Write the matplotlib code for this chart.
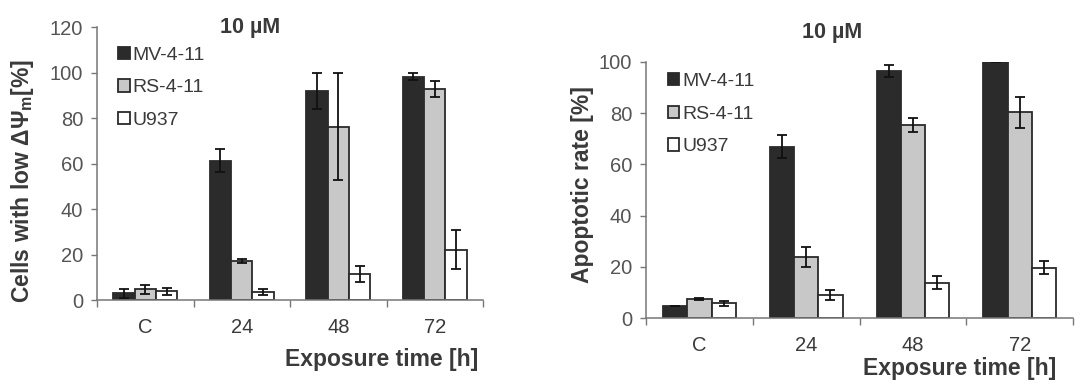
import matplotlib
matplotlib.use("Agg")
import matplotlib.pyplot as plt
import numpy as np

plt.rcParams['font.family'] = ['Liberation Sans', 'DejaVu Sans']
plt.rcParams['mathtext.fontset'] = 'custom'
plt.rcParams['mathtext.rm'] = 'Liberation Sans'
plt.rcParams['mathtext.bf'] = 'Liberation Sans:bold'

categories = ['C', '24', '48', '72']
cell_lines = ['MV-4-11', 'RS-4-11', 'U937']

# left panel: cells with low mitochondrial potential [%]
mmp_mv = [3.0, 61.3, 91.9, 98.2]
mmp_rs = [4.7, 17.1, 76.1, 92.6]
mmp_u9 = [3.8, 3.4, 11.4, 22.2]
mmp_mv_err = [2.0, 5.0, 8.0, 1.6]
mmp_rs_err = [2.0, 1.0, 23.5, 3.5]
mmp_u9_err = [1.5, 1.3, 3.7, 8.6]

# right panel: apoptotic rate [%]
apo_mv = [4.8, 66.9, 96.5, 100.0]
apo_rs = [7.5, 23.8, 75.5, 80.3]
apo_u9 = [5.8, 9.1, 13.8, 19.7]
apo_mv_err = [0.0, 4.5, 2.2, 0.0]
apo_rs_err = [0.5, 3.8, 2.7, 6.0]
apo_u9_err = [1.0, 2.0, 2.6, 2.6]

colors = ['#2b2b2b', '#c8c8c8', '#ffffff']
edge = '#2a2a2a'
txt = '#3a3a3a'

fig = plt.figure(figsize=(10.84, 3.87), dpi=100)


def panel(rect, vals, errs, ymax, ystep, ylabel, ylab_xy, title_xy, leg_xy, xlab_xy, bw):
    ax = fig.add_axes(rect)
    x = np.arange(len(categories))
    for i, (v, e) in enumerate(zip(vals, errs)):
        ax.bar(x + (i - 1) * bw, v, bw, color=colors[i], edgecolor=edge, linewidth=1.3,
               label=cell_lines[i], zorder=2)
        ax.errorbar(x + (i - 1) * bw, v, yerr=e, fmt='none', ecolor='#111111',
                    elinewidth=1.3, capsize=3.5, capthick=1.3, zorder=3)
    ax.set_xlim(-0.5, len(categories) - 0.5)
    ax.set_ylim(0, ymax)
    ax.set_yticks(np.arange(0, ymax + 1, ystep))
    ax.set_xticks(x)
    ax.set_xticklabels(categories)
    ax.set_xticks(np.arange(-0.5, len(categories)), minor=True)
    ax.tick_params(axis='x', which='major', length=0, pad=13, labelsize=14.5, labelcolor=txt)
    ax.tick_params(axis='x', which='minor', length=5, width=1, color='#777777', direction='out')
    ax.tick_params(axis='y', length=4, width=1, color='#777777', labelsize=14.5, labelcolor='#555555', pad=6)
    for s in ['top', 'right']:
        ax.spines[s].set_visible(False)
    for s in ['left', 'bottom']:
        ax.spines[s].set_color('#777777')
        ax.spines[s].set_linewidth(1.1)
    fig.text(ylab_xy[0], ylab_xy[1], ylabel, rotation=90, ha='center', va='center',
             fontsize=16.5, fontweight='bold', color=txt)
    fig.text(title_xy[0], title_xy[1], '10 \u00b5M', ha='center', va='center',
             fontsize=15.5, fontweight='bold', color=txt)
    lg = ax.legend(frameon=False, loc='upper left', fontsize=14, handlelength=0.6, handleheight=0.6,
                   handletextpad=0.15, labelspacing=0.8, borderaxespad=0, borderpad=0,
                   bbox_to_anchor=leg_xy, bbox_transform=fig.transFigure)
    for t in lg.get_texts():
        t.set_color(txt)
    for p in lg.get_patches():
        p.set_linewidth(1.3)
    fig.text(xlab_xy[0], xlab_xy[1], 'Exposure time [h]', ha='center', va='center',
             fontsize=16.5, fontweight='bold', color=txt)
    return ax


panel([0.0895, 0.2248, 0.3561, 0.7052],
      [mmp_mv, mmp_rs, mmp_u9], [mmp_mv_err, mmp_rs_err, mmp_u9_err],
      120, 20, 'Cells with low \u0394\u03a8$_{\\mathbf{m}}$[%]', (0.021, 0.532), (0.231, 0.930),
      (0.109, 0.879), (0.352, 0.070), 0.222)

panel([0.596, 0.178, 0.394, 0.662],
      [apo_mv, apo_rs, apo_u9], [apo_mv_err, apo_rs_err, apo_u9_err],
      100, 20, 'Apoptotic rate [%]', (0.537, 0.522), (0.768, 0.917),
      (0.616, 0.811), (0.885, 0.049), 0.227)

fig.savefig('out.png', dpi=100, facecolor='white')
